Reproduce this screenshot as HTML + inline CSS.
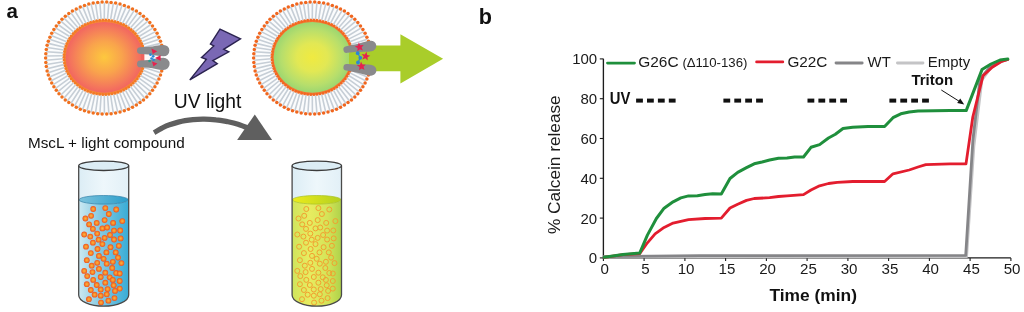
<!DOCTYPE html>
<html lang="en"><head><meta charset="utf-8"><title>Figure</title>
<style>
html,body{margin:0;padding:0;background:#fff;}
body{width:1024px;height:312px;overflow:hidden;font-family:"Liberation Sans", Arial, Helvetica, sans-serif;}
svg text{font-family:"Liberation Sans", Arial, Helvetica, sans-serif;}
</style></head><body>
<svg width="1024" height="312" viewBox="0 0 1024 312" style="display:block">

<defs>
<radialGradient id="coreO" cx="50%" cy="50%" r="50%">
<stop offset="0" stop-color="#fdc83e"/><stop offset="0.45" stop-color="#f9a44c"/><stop offset="0.85" stop-color="#f4775c"/><stop offset="1" stop-color="#f26660"/>
</radialGradient>
<radialGradient id="coreG" cx="50%" cy="50%" r="50%">
<stop offset="0" stop-color="#f0ea40"/><stop offset="0.4" stop-color="#e2e854"/><stop offset="0.8" stop-color="#b6de6c"/><stop offset="1" stop-color="#9cd670"/>
</radialGradient>
<radialGradient id="dotO" cx="50%" cy="50%" r="50%">
<stop offset="0" stop-color="#fcb43c"/><stop offset="0.45" stop-color="#f7922c"/><stop offset="1" stop-color="#ef4f1e"/>
</radialGradient>
<linearGradient id="liqB" x1="0" x2="1" y1="0" y2="0">
<stop offset="0" stop-color="#cde9f2"/><stop offset="0.42" stop-color="#86cae2"/><stop offset="1" stop-color="#38acd6"/>
</linearGradient>
<linearGradient id="surfB" x1="0" x2="1" y1="0" y2="0">
<stop offset="0" stop-color="#7cc2dc"/><stop offset="1" stop-color="#2a9ecb"/>
</linearGradient>
<linearGradient id="liqY" x1="0" x2="1" y1="0" y2="0">
<stop offset="0" stop-color="#cfe45c"/><stop offset="0.35" stop-color="#e8ec60"/><stop offset="0.72" stop-color="#d4e458"/><stop offset="1" stop-color="#aed24a"/>
</linearGradient>
<linearGradient id="surfY" x1="0" x2="1" y1="0" y2="0">
<stop offset="0" stop-color="#ecec1c"/><stop offset="1" stop-color="#b4d020"/>
</linearGradient>
<linearGradient id="glass" x1="0" x2="1" y1="0" y2="0">
<stop offset="0" stop-color="#dcedf5"/><stop offset="0.5" stop-color="#eef7fb"/><stop offset="1" stop-color="#e2f0f7"/>
</linearGradient>
</defs>

<ellipse cx="104.4" cy="58.1" rx="57.8" ry="55.0" fill="#fbfcfd"/>
<path d="M145.3 61.7L162.3 64.5M144.8 64.6L161.6 68.7M144.1 67.4L160.6 72.8M143.2 70.2L159.3 76.9M142.0 72.9L157.6 80.8M140.6 75.5L155.6 84.6M139.0 78.1L153.3 88.3M137.1 80.5L150.8 91.7M135.1 82.7L147.9 95.0M132.9 84.8L144.8 98.1M130.6 86.8L141.5 100.9M128.1 88.5L137.9 103.5M125.4 90.1L134.2 105.8M122.6 91.5L130.3 107.8M119.7 92.7L126.2 109.6M116.8 93.7L122.0 111.0M113.7 94.5L117.7 112.1M110.6 95.1L113.3 112.9M107.5 95.4L108.9 113.4M104.3 95.5L104.4 113.6M101.1 95.4L99.9 113.4M98.0 95.1L95.5 112.9M94.9 94.5L91.1 112.1M91.8 93.7L86.8 111.0M88.9 92.7L82.6 109.6M86.0 91.5L78.5 107.8M83.2 90.1L74.6 105.8M80.5 88.5L70.9 103.5M78.0 86.8L67.3 100.9M75.7 84.8L64.0 98.1M73.5 82.7L60.9 95.0M71.5 80.5L58.0 91.7M69.6 78.1L55.5 88.3M68.0 75.5L53.2 84.6M66.6 72.9L51.2 80.8M65.4 70.2L49.5 76.9M64.5 67.4L48.2 72.8M63.8 64.6L47.2 68.7M63.3 61.7L46.5 64.5M63.0 58.8L46.1 60.2M63.0 55.8L46.1 56.0M63.3 52.9L46.5 51.7M63.8 50.0L47.2 47.5M64.5 47.2L48.2 43.4M65.4 44.4L49.5 39.3M66.6 41.7L51.2 35.4M68.0 39.1L53.2 31.6M69.6 36.5L55.5 27.9M71.5 34.1L58.0 24.5M73.5 31.9L60.9 21.2M75.7 29.8L64.0 18.1M78.0 27.8L67.3 15.3M80.5 26.1L70.9 12.7M83.2 24.5L74.6 10.4M86.0 23.1L78.5 8.4M88.9 21.9L82.6 6.6M91.8 20.9L86.8 5.2M94.9 20.1L91.1 4.1M98.0 19.5L95.5 3.3M101.1 19.2L99.9 2.8M104.3 19.1L104.4 2.6M107.5 19.2L108.9 2.8M110.6 19.5L113.3 3.3M113.7 20.1L117.7 4.1M116.8 20.9L122.0 5.2M119.7 21.9L126.2 6.6M122.6 23.1L130.3 8.4M125.4 24.5L134.2 10.4M128.1 26.1L137.9 12.7M130.6 27.8L141.5 15.3M132.9 29.8L144.8 18.1M135.1 31.9L147.9 21.2M137.1 34.1L150.8 24.5M139.0 36.5L153.3 27.9M140.6 39.1L155.6 31.6M142.0 41.7L157.6 35.4M143.2 44.4L159.3 39.3M144.1 47.2L160.6 43.4M144.8 50.0L161.6 47.5M145.3 52.9L162.3 51.7" stroke="#c6ced6" stroke-width="1.6" fill="none"/>
<ellipse cx="104.30000000000001" cy="57.300000000000004" rx="40.5" ry="37.400000000000006" fill="#f68a38"/>
<circle cx="144.5" cy="60.1" r="1.5" fill="#f37a26"/>
<circle cx="144.1" cy="63.0" r="1.5" fill="#f37a26"/>
<circle cx="143.5" cy="65.8" r="1.5" fill="#f37a26"/>
<circle cx="142.7" cy="68.5" r="1.5" fill="#f37a26"/>
<circle cx="141.7" cy="71.2" r="1.5" fill="#f37a26"/>
<circle cx="140.4" cy="73.8" r="1.5" fill="#f37a26"/>
<circle cx="138.9" cy="76.3" r="1.5" fill="#f37a26"/>
<circle cx="137.3" cy="78.7" r="1.5" fill="#f37a26"/>
<circle cx="135.4" cy="81.0" r="1.5" fill="#f37a26"/>
<circle cx="133.3" cy="83.1" r="1.5" fill="#f37a26"/>
<circle cx="131.1" cy="85.1" r="1.5" fill="#f37a26"/>
<circle cx="128.7" cy="86.9" r="1.5" fill="#f37a26"/>
<circle cx="126.2" cy="88.5" r="1.5" fill="#f37a26"/>
<circle cx="123.6" cy="90.0" r="1.5" fill="#f37a26"/>
<circle cx="120.8" cy="91.2" r="1.5" fill="#f37a26"/>
<circle cx="117.9" cy="92.3" r="1.5" fill="#f37a26"/>
<circle cx="115.0" cy="93.2" r="1.5" fill="#f37a26"/>
<circle cx="112.0" cy="93.8" r="1.5" fill="#f37a26"/>
<circle cx="108.9" cy="94.3" r="1.5" fill="#f37a26"/>
<circle cx="105.8" cy="94.5" r="1.5" fill="#f37a26"/>
<circle cx="102.8" cy="94.5" r="1.5" fill="#f37a26"/>
<circle cx="99.7" cy="94.3" r="1.5" fill="#f37a26"/>
<circle cx="96.6" cy="93.8" r="1.5" fill="#f37a26"/>
<circle cx="93.6" cy="93.2" r="1.5" fill="#f37a26"/>
<circle cx="90.7" cy="92.3" r="1.5" fill="#f37a26"/>
<circle cx="87.8" cy="91.2" r="1.5" fill="#f37a26"/>
<circle cx="85.0" cy="90.0" r="1.5" fill="#f37a26"/>
<circle cx="82.4" cy="88.5" r="1.5" fill="#f37a26"/>
<circle cx="79.9" cy="86.9" r="1.5" fill="#f37a26"/>
<circle cx="77.5" cy="85.1" r="1.5" fill="#f37a26"/>
<circle cx="75.3" cy="83.1" r="1.5" fill="#f37a26"/>
<circle cx="73.2" cy="81.0" r="1.5" fill="#f37a26"/>
<circle cx="71.3" cy="78.7" r="1.5" fill="#f37a26"/>
<circle cx="69.7" cy="76.3" r="1.5" fill="#f37a26"/>
<circle cx="68.2" cy="73.8" r="1.5" fill="#f37a26"/>
<circle cx="66.9" cy="71.2" r="1.5" fill="#f37a26"/>
<circle cx="65.9" cy="68.5" r="1.5" fill="#f37a26"/>
<circle cx="65.1" cy="65.8" r="1.5" fill="#f37a26"/>
<circle cx="64.5" cy="63.0" r="1.5" fill="#f37a26"/>
<circle cx="64.1" cy="60.1" r="1.5" fill="#f37a26"/>
<circle cx="64.0" cy="57.3" r="1.5" fill="#f37a26"/>
<circle cx="64.1" cy="54.5" r="1.5" fill="#f37a26"/>
<circle cx="64.5" cy="51.6" r="1.5" fill="#f37a26"/>
<circle cx="65.1" cy="48.8" r="1.5" fill="#f37a26"/>
<circle cx="65.9" cy="46.1" r="1.5" fill="#f37a26"/>
<circle cx="66.9" cy="43.4" r="1.5" fill="#f37a26"/>
<circle cx="68.2" cy="40.8" r="1.5" fill="#f37a26"/>
<circle cx="69.7" cy="38.3" r="1.5" fill="#f37a26"/>
<circle cx="71.3" cy="35.9" r="1.5" fill="#f37a26"/>
<circle cx="73.2" cy="33.6" r="1.5" fill="#f37a26"/>
<circle cx="75.3" cy="31.5" r="1.5" fill="#f37a26"/>
<circle cx="77.5" cy="29.5" r="1.5" fill="#f37a26"/>
<circle cx="79.9" cy="27.7" r="1.5" fill="#f37a26"/>
<circle cx="82.4" cy="26.1" r="1.5" fill="#f37a26"/>
<circle cx="85.0" cy="24.6" r="1.5" fill="#f37a26"/>
<circle cx="87.8" cy="23.4" r="1.5" fill="#f37a26"/>
<circle cx="90.7" cy="22.3" r="1.5" fill="#f37a26"/>
<circle cx="93.6" cy="21.4" r="1.5" fill="#f37a26"/>
<circle cx="96.6" cy="20.8" r="1.5" fill="#f37a26"/>
<circle cx="99.7" cy="20.3" r="1.5" fill="#f37a26"/>
<circle cx="102.8" cy="20.1" r="1.5" fill="#f37a26"/>
<circle cx="105.8" cy="20.1" r="1.5" fill="#f37a26"/>
<circle cx="108.9" cy="20.3" r="1.5" fill="#f37a26"/>
<circle cx="112.0" cy="20.8" r="1.5" fill="#f37a26"/>
<circle cx="115.0" cy="21.4" r="1.5" fill="#f37a26"/>
<circle cx="117.9" cy="22.3" r="1.5" fill="#f37a26"/>
<circle cx="120.8" cy="23.4" r="1.5" fill="#f37a26"/>
<circle cx="123.6" cy="24.6" r="1.5" fill="#f37a26"/>
<circle cx="126.2" cy="26.1" r="1.5" fill="#f37a26"/>
<circle cx="128.7" cy="27.7" r="1.5" fill="#f37a26"/>
<circle cx="131.1" cy="29.5" r="1.5" fill="#f37a26"/>
<circle cx="133.3" cy="31.5" r="1.5" fill="#f37a26"/>
<circle cx="135.4" cy="33.6" r="1.5" fill="#f37a26"/>
<circle cx="137.3" cy="35.9" r="1.5" fill="#f37a26"/>
<circle cx="138.9" cy="38.3" r="1.5" fill="#f37a26"/>
<circle cx="140.4" cy="40.8" r="1.5" fill="#f37a26"/>
<circle cx="141.7" cy="43.4" r="1.5" fill="#f37a26"/>
<circle cx="142.7" cy="46.1" r="1.5" fill="#f37a26"/>
<circle cx="143.5" cy="48.8" r="1.5" fill="#f37a26"/>
<circle cx="144.1" cy="51.6" r="1.5" fill="#f37a26"/>
<circle cx="144.5" cy="54.5" r="1.5" fill="#f37a26"/>
<ellipse cx="104.30000000000001" cy="57.300000000000004" rx="38.7" ry="35.4" fill="url(#coreO)"/>
<circle cx="163.0" cy="62.4" r="1.75" fill="#f0701f"/>
<circle cx="162.5" cy="66.6" r="1.75" fill="#f0701f"/>
<circle cx="161.7" cy="70.9" r="1.75" fill="#f0701f"/>
<circle cx="160.5" cy="75.0" r="1.75" fill="#f0701f"/>
<circle cx="158.9" cy="79.0" r="1.75" fill="#f0701f"/>
<circle cx="157.1" cy="82.9" r="1.75" fill="#f0701f"/>
<circle cx="154.9" cy="86.7" r="1.75" fill="#f0701f"/>
<circle cx="152.5" cy="90.3" r="1.75" fill="#f0701f"/>
<circle cx="149.8" cy="93.7" r="1.75" fill="#f0701f"/>
<circle cx="146.8" cy="96.9" r="1.75" fill="#f0701f"/>
<circle cx="143.5" cy="99.9" r="1.75" fill="#f0701f"/>
<circle cx="140.0" cy="102.6" r="1.75" fill="#f0701f"/>
<circle cx="136.4" cy="105.1" r="1.75" fill="#f0701f"/>
<circle cx="132.5" cy="107.3" r="1.75" fill="#f0701f"/>
<circle cx="128.5" cy="109.2" r="1.75" fill="#f0701f"/>
<circle cx="124.3" cy="110.8" r="1.75" fill="#f0701f"/>
<circle cx="120.0" cy="112.1" r="1.75" fill="#f0701f"/>
<circle cx="115.6" cy="113.1" r="1.75" fill="#f0701f"/>
<circle cx="111.1" cy="113.7" r="1.75" fill="#f0701f"/>
<circle cx="106.7" cy="114.1" r="1.75" fill="#f0701f"/>
<circle cx="102.1" cy="114.1" r="1.75" fill="#f0701f"/>
<circle cx="97.7" cy="113.7" r="1.75" fill="#f0701f"/>
<circle cx="93.2" cy="113.1" r="1.75" fill="#f0701f"/>
<circle cx="88.8" cy="112.1" r="1.75" fill="#f0701f"/>
<circle cx="84.5" cy="110.8" r="1.75" fill="#f0701f"/>
<circle cx="80.3" cy="109.2" r="1.75" fill="#f0701f"/>
<circle cx="76.3" cy="107.3" r="1.75" fill="#f0701f"/>
<circle cx="72.4" cy="105.1" r="1.75" fill="#f0701f"/>
<circle cx="68.8" cy="102.6" r="1.75" fill="#f0701f"/>
<circle cx="65.3" cy="99.9" r="1.75" fill="#f0701f"/>
<circle cx="62.0" cy="96.9" r="1.75" fill="#f0701f"/>
<circle cx="59.0" cy="93.7" r="1.75" fill="#f0701f"/>
<circle cx="56.3" cy="90.3" r="1.75" fill="#f0701f"/>
<circle cx="53.9" cy="86.7" r="1.75" fill="#f0701f"/>
<circle cx="51.7" cy="82.9" r="1.75" fill="#f0701f"/>
<circle cx="49.9" cy="79.0" r="1.75" fill="#f0701f"/>
<circle cx="48.3" cy="75.0" r="1.75" fill="#f0701f"/>
<circle cx="47.1" cy="70.9" r="1.75" fill="#f0701f"/>
<circle cx="46.3" cy="66.6" r="1.75" fill="#f0701f"/>
<circle cx="45.8" cy="62.4" r="1.75" fill="#f0701f"/>
<circle cx="45.6" cy="58.1" r="1.75" fill="#f0701f"/>
<circle cx="45.8" cy="53.8" r="1.75" fill="#f0701f"/>
<circle cx="46.3" cy="49.6" r="1.75" fill="#f0701f"/>
<circle cx="47.1" cy="45.3" r="1.75" fill="#f0701f"/>
<circle cx="48.3" cy="41.2" r="1.75" fill="#f0701f"/>
<circle cx="49.9" cy="37.2" r="1.75" fill="#f0701f"/>
<circle cx="51.7" cy="33.3" r="1.75" fill="#f0701f"/>
<circle cx="53.9" cy="29.5" r="1.75" fill="#f0701f"/>
<circle cx="56.3" cy="25.9" r="1.75" fill="#f0701f"/>
<circle cx="59.0" cy="22.5" r="1.75" fill="#f0701f"/>
<circle cx="62.0" cy="19.3" r="1.75" fill="#f0701f"/>
<circle cx="65.3" cy="16.3" r="1.75" fill="#f0701f"/>
<circle cx="68.8" cy="13.6" r="1.75" fill="#f0701f"/>
<circle cx="72.4" cy="11.1" r="1.75" fill="#f0701f"/>
<circle cx="76.3" cy="8.9" r="1.75" fill="#f0701f"/>
<circle cx="80.3" cy="7.0" r="1.75" fill="#f0701f"/>
<circle cx="84.5" cy="5.4" r="1.75" fill="#f0701f"/>
<circle cx="88.8" cy="4.1" r="1.75" fill="#f0701f"/>
<circle cx="93.2" cy="3.1" r="1.75" fill="#f0701f"/>
<circle cx="97.7" cy="2.5" r="1.75" fill="#f0701f"/>
<circle cx="102.1" cy="2.1" r="1.75" fill="#f0701f"/>
<circle cx="106.7" cy="2.1" r="1.75" fill="#f0701f"/>
<circle cx="111.1" cy="2.5" r="1.75" fill="#f0701f"/>
<circle cx="115.6" cy="3.1" r="1.75" fill="#f0701f"/>
<circle cx="120.0" cy="4.1" r="1.75" fill="#f0701f"/>
<circle cx="124.3" cy="5.4" r="1.75" fill="#f0701f"/>
<circle cx="128.5" cy="7.0" r="1.75" fill="#f0701f"/>
<circle cx="132.5" cy="8.9" r="1.75" fill="#f0701f"/>
<circle cx="136.4" cy="11.1" r="1.75" fill="#f0701f"/>
<circle cx="140.0" cy="13.6" r="1.75" fill="#f0701f"/>
<circle cx="143.5" cy="16.3" r="1.75" fill="#f0701f"/>
<circle cx="146.8" cy="19.3" r="1.75" fill="#f0701f"/>
<circle cx="149.8" cy="22.5" r="1.75" fill="#f0701f"/>
<circle cx="152.5" cy="25.9" r="1.75" fill="#f0701f"/>
<circle cx="154.9" cy="29.5" r="1.75" fill="#f0701f"/>
<circle cx="157.1" cy="33.3" r="1.75" fill="#f0701f"/>
<circle cx="158.9" cy="37.2" r="1.75" fill="#f0701f"/>
<circle cx="160.5" cy="41.2" r="1.75" fill="#f0701f"/>
<circle cx="161.7" cy="45.3" r="1.75" fill="#f0701f"/>
<circle cx="162.5" cy="49.6" r="1.75" fill="#f0701f"/>
<circle cx="163.0" cy="53.8" r="1.75" fill="#f0701f"/>
<ellipse cx="312.4" cy="58.1" rx="57.8" ry="55.0" fill="#fbfcfd"/>
<path d="M353.3 61.7L370.3 64.5M352.8 64.6L369.6 68.7M352.1 67.4L368.6 72.8M351.2 70.2L367.3 76.9M350.0 72.9L365.6 80.8M348.6 75.5L363.6 84.6M347.0 78.1L361.3 88.3M345.1 80.5L358.8 91.7M343.1 82.7L355.9 95.0M340.9 84.8L352.8 98.1M338.6 86.8L349.5 100.9M336.1 88.5L345.9 103.5M333.4 90.1L342.2 105.8M330.6 91.5L338.3 107.8M327.7 92.7L334.2 109.6M324.8 93.7L330.0 111.0M321.7 94.5L325.7 112.1M318.6 95.1L321.3 112.9M315.5 95.4L316.9 113.4M312.3 95.5L312.4 113.6M309.1 95.4L307.9 113.4M306.0 95.1L303.5 112.9M302.9 94.5L299.1 112.1M299.8 93.7L294.8 111.0M296.9 92.7L290.6 109.6M294.0 91.5L286.5 107.8M291.2 90.1L282.6 105.8M288.5 88.5L278.9 103.5M286.0 86.8L275.3 100.9M283.7 84.8L272.0 98.1M281.5 82.7L268.9 95.0M279.5 80.5L266.0 91.7M277.6 78.1L263.5 88.3M276.0 75.5L261.2 84.6M274.6 72.9L259.2 80.8M273.4 70.2L257.5 76.9M272.5 67.4L256.2 72.8M271.8 64.6L255.2 68.7M271.3 61.7L254.5 64.5M271.0 58.8L254.1 60.2M271.0 55.8L254.1 56.0M271.3 52.9L254.5 51.7M271.8 50.0L255.2 47.5M272.5 47.2L256.2 43.4M273.4 44.4L257.5 39.3M274.6 41.7L259.2 35.4M276.0 39.1L261.2 31.6M277.6 36.5L263.5 27.9M279.5 34.1L266.0 24.5M281.5 31.9L268.9 21.2M283.7 29.8L272.0 18.1M286.0 27.8L275.3 15.3M288.5 26.1L278.9 12.7M291.2 24.5L282.6 10.4M294.0 23.1L286.5 8.4M296.9 21.9L290.6 6.6M299.8 20.9L294.8 5.2M302.9 20.1L299.1 4.1M306.0 19.5L303.5 3.3M309.1 19.2L307.9 2.8M312.3 19.1L312.4 2.6M315.5 19.2L316.9 2.8M318.6 19.5L321.3 3.3M321.7 20.1L325.7 4.1M324.8 20.9L330.0 5.2M327.7 21.9L334.2 6.6M330.6 23.1L338.3 8.4M333.4 24.5L342.2 10.4M336.1 26.1L345.9 12.7M338.6 27.8L349.5 15.3M340.9 29.8L352.8 18.1M343.1 31.9L355.9 21.2M345.1 34.1L358.8 24.5M347.0 36.5L361.3 27.9M348.6 39.1L363.6 31.6M350.0 41.7L365.6 35.4M351.2 44.4L367.3 39.3M352.1 47.2L368.6 43.4M352.8 50.0L369.6 47.5M353.3 52.9L370.3 51.7" stroke="#c6ced6" stroke-width="1.6" fill="none"/>
<ellipse cx="312.29999999999995" cy="57.300000000000004" rx="40.5" ry="37.400000000000006" fill="#f57832"/>
<circle cx="352.5" cy="60.1" r="1.5" fill="#f26822"/>
<circle cx="352.1" cy="63.0" r="1.5" fill="#f26822"/>
<circle cx="351.5" cy="65.8" r="1.5" fill="#f26822"/>
<circle cx="350.7" cy="68.5" r="1.5" fill="#f26822"/>
<circle cx="349.7" cy="71.2" r="1.5" fill="#f26822"/>
<circle cx="348.4" cy="73.8" r="1.5" fill="#f26822"/>
<circle cx="346.9" cy="76.3" r="1.5" fill="#f26822"/>
<circle cx="345.3" cy="78.7" r="1.5" fill="#f26822"/>
<circle cx="343.4" cy="81.0" r="1.5" fill="#f26822"/>
<circle cx="341.3" cy="83.1" r="1.5" fill="#f26822"/>
<circle cx="339.1" cy="85.1" r="1.5" fill="#f26822"/>
<circle cx="336.7" cy="86.9" r="1.5" fill="#f26822"/>
<circle cx="334.2" cy="88.5" r="1.5" fill="#f26822"/>
<circle cx="331.6" cy="90.0" r="1.5" fill="#f26822"/>
<circle cx="328.8" cy="91.2" r="1.5" fill="#f26822"/>
<circle cx="325.9" cy="92.3" r="1.5" fill="#f26822"/>
<circle cx="323.0" cy="93.2" r="1.5" fill="#f26822"/>
<circle cx="320.0" cy="93.8" r="1.5" fill="#f26822"/>
<circle cx="316.9" cy="94.3" r="1.5" fill="#f26822"/>
<circle cx="313.8" cy="94.5" r="1.5" fill="#f26822"/>
<circle cx="310.8" cy="94.5" r="1.5" fill="#f26822"/>
<circle cx="307.7" cy="94.3" r="1.5" fill="#f26822"/>
<circle cx="304.6" cy="93.8" r="1.5" fill="#f26822"/>
<circle cx="301.6" cy="93.2" r="1.5" fill="#f26822"/>
<circle cx="298.7" cy="92.3" r="1.5" fill="#f26822"/>
<circle cx="295.8" cy="91.2" r="1.5" fill="#f26822"/>
<circle cx="293.0" cy="90.0" r="1.5" fill="#f26822"/>
<circle cx="290.4" cy="88.5" r="1.5" fill="#f26822"/>
<circle cx="287.9" cy="86.9" r="1.5" fill="#f26822"/>
<circle cx="285.5" cy="85.1" r="1.5" fill="#f26822"/>
<circle cx="283.3" cy="83.1" r="1.5" fill="#f26822"/>
<circle cx="281.2" cy="81.0" r="1.5" fill="#f26822"/>
<circle cx="279.3" cy="78.7" r="1.5" fill="#f26822"/>
<circle cx="277.7" cy="76.3" r="1.5" fill="#f26822"/>
<circle cx="276.2" cy="73.8" r="1.5" fill="#f26822"/>
<circle cx="274.9" cy="71.2" r="1.5" fill="#f26822"/>
<circle cx="273.9" cy="68.5" r="1.5" fill="#f26822"/>
<circle cx="273.1" cy="65.8" r="1.5" fill="#f26822"/>
<circle cx="272.5" cy="63.0" r="1.5" fill="#f26822"/>
<circle cx="272.1" cy="60.1" r="1.5" fill="#f26822"/>
<circle cx="272.0" cy="57.3" r="1.5" fill="#f26822"/>
<circle cx="272.1" cy="54.5" r="1.5" fill="#f26822"/>
<circle cx="272.5" cy="51.6" r="1.5" fill="#f26822"/>
<circle cx="273.1" cy="48.8" r="1.5" fill="#f26822"/>
<circle cx="273.9" cy="46.1" r="1.5" fill="#f26822"/>
<circle cx="274.9" cy="43.4" r="1.5" fill="#f26822"/>
<circle cx="276.2" cy="40.8" r="1.5" fill="#f26822"/>
<circle cx="277.7" cy="38.3" r="1.5" fill="#f26822"/>
<circle cx="279.3" cy="35.9" r="1.5" fill="#f26822"/>
<circle cx="281.2" cy="33.6" r="1.5" fill="#f26822"/>
<circle cx="283.3" cy="31.5" r="1.5" fill="#f26822"/>
<circle cx="285.5" cy="29.5" r="1.5" fill="#f26822"/>
<circle cx="287.9" cy="27.7" r="1.5" fill="#f26822"/>
<circle cx="290.4" cy="26.1" r="1.5" fill="#f26822"/>
<circle cx="293.0" cy="24.6" r="1.5" fill="#f26822"/>
<circle cx="295.8" cy="23.4" r="1.5" fill="#f26822"/>
<circle cx="298.7" cy="22.3" r="1.5" fill="#f26822"/>
<circle cx="301.6" cy="21.4" r="1.5" fill="#f26822"/>
<circle cx="304.6" cy="20.8" r="1.5" fill="#f26822"/>
<circle cx="307.7" cy="20.3" r="1.5" fill="#f26822"/>
<circle cx="310.8" cy="20.1" r="1.5" fill="#f26822"/>
<circle cx="313.8" cy="20.1" r="1.5" fill="#f26822"/>
<circle cx="316.9" cy="20.3" r="1.5" fill="#f26822"/>
<circle cx="320.0" cy="20.8" r="1.5" fill="#f26822"/>
<circle cx="323.0" cy="21.4" r="1.5" fill="#f26822"/>
<circle cx="325.9" cy="22.3" r="1.5" fill="#f26822"/>
<circle cx="328.8" cy="23.4" r="1.5" fill="#f26822"/>
<circle cx="331.6" cy="24.6" r="1.5" fill="#f26822"/>
<circle cx="334.2" cy="26.1" r="1.5" fill="#f26822"/>
<circle cx="336.7" cy="27.7" r="1.5" fill="#f26822"/>
<circle cx="339.1" cy="29.5" r="1.5" fill="#f26822"/>
<circle cx="341.3" cy="31.5" r="1.5" fill="#f26822"/>
<circle cx="343.4" cy="33.6" r="1.5" fill="#f26822"/>
<circle cx="345.3" cy="35.9" r="1.5" fill="#f26822"/>
<circle cx="346.9" cy="38.3" r="1.5" fill="#f26822"/>
<circle cx="348.4" cy="40.8" r="1.5" fill="#f26822"/>
<circle cx="349.7" cy="43.4" r="1.5" fill="#f26822"/>
<circle cx="350.7" cy="46.1" r="1.5" fill="#f26822"/>
<circle cx="351.5" cy="48.8" r="1.5" fill="#f26822"/>
<circle cx="352.1" cy="51.6" r="1.5" fill="#f26822"/>
<circle cx="352.5" cy="54.5" r="1.5" fill="#f26822"/>
<ellipse cx="312.29999999999995" cy="57.300000000000004" rx="38.7" ry="35.4" fill="url(#coreG)"/>
<circle cx="371.0" cy="62.4" r="1.75" fill="#f0661f"/>
<circle cx="370.5" cy="66.6" r="1.75" fill="#f0661f"/>
<circle cx="369.7" cy="70.9" r="1.75" fill="#f0661f"/>
<circle cx="368.5" cy="75.0" r="1.75" fill="#f0661f"/>
<circle cx="366.9" cy="79.0" r="1.75" fill="#f0661f"/>
<circle cx="365.1" cy="82.9" r="1.75" fill="#f0661f"/>
<circle cx="362.9" cy="86.7" r="1.75" fill="#f0661f"/>
<circle cx="360.5" cy="90.3" r="1.75" fill="#f0661f"/>
<circle cx="357.8" cy="93.7" r="1.75" fill="#f0661f"/>
<circle cx="354.8" cy="96.9" r="1.75" fill="#f0661f"/>
<circle cx="351.5" cy="99.9" r="1.75" fill="#f0661f"/>
<circle cx="348.0" cy="102.6" r="1.75" fill="#f0661f"/>
<circle cx="344.4" cy="105.1" r="1.75" fill="#f0661f"/>
<circle cx="340.5" cy="107.3" r="1.75" fill="#f0661f"/>
<circle cx="336.5" cy="109.2" r="1.75" fill="#f0661f"/>
<circle cx="332.3" cy="110.8" r="1.75" fill="#f0661f"/>
<circle cx="328.0" cy="112.1" r="1.75" fill="#f0661f"/>
<circle cx="323.6" cy="113.1" r="1.75" fill="#f0661f"/>
<circle cx="319.1" cy="113.7" r="1.75" fill="#f0661f"/>
<circle cx="314.7" cy="114.1" r="1.75" fill="#f0661f"/>
<circle cx="310.1" cy="114.1" r="1.75" fill="#f0661f"/>
<circle cx="305.7" cy="113.7" r="1.75" fill="#f0661f"/>
<circle cx="301.2" cy="113.1" r="1.75" fill="#f0661f"/>
<circle cx="296.8" cy="112.1" r="1.75" fill="#f0661f"/>
<circle cx="292.5" cy="110.8" r="1.75" fill="#f0661f"/>
<circle cx="288.3" cy="109.2" r="1.75" fill="#f0661f"/>
<circle cx="284.3" cy="107.3" r="1.75" fill="#f0661f"/>
<circle cx="280.4" cy="105.1" r="1.75" fill="#f0661f"/>
<circle cx="276.8" cy="102.6" r="1.75" fill="#f0661f"/>
<circle cx="273.3" cy="99.9" r="1.75" fill="#f0661f"/>
<circle cx="270.0" cy="96.9" r="1.75" fill="#f0661f"/>
<circle cx="267.0" cy="93.7" r="1.75" fill="#f0661f"/>
<circle cx="264.3" cy="90.3" r="1.75" fill="#f0661f"/>
<circle cx="261.9" cy="86.7" r="1.75" fill="#f0661f"/>
<circle cx="259.7" cy="82.9" r="1.75" fill="#f0661f"/>
<circle cx="257.9" cy="79.0" r="1.75" fill="#f0661f"/>
<circle cx="256.3" cy="75.0" r="1.75" fill="#f0661f"/>
<circle cx="255.1" cy="70.9" r="1.75" fill="#f0661f"/>
<circle cx="254.3" cy="66.6" r="1.75" fill="#f0661f"/>
<circle cx="253.8" cy="62.4" r="1.75" fill="#f0661f"/>
<circle cx="253.6" cy="58.1" r="1.75" fill="#f0661f"/>
<circle cx="253.8" cy="53.8" r="1.75" fill="#f0661f"/>
<circle cx="254.3" cy="49.6" r="1.75" fill="#f0661f"/>
<circle cx="255.1" cy="45.3" r="1.75" fill="#f0661f"/>
<circle cx="256.3" cy="41.2" r="1.75" fill="#f0661f"/>
<circle cx="257.9" cy="37.2" r="1.75" fill="#f0661f"/>
<circle cx="259.7" cy="33.3" r="1.75" fill="#f0661f"/>
<circle cx="261.9" cy="29.5" r="1.75" fill="#f0661f"/>
<circle cx="264.3" cy="25.9" r="1.75" fill="#f0661f"/>
<circle cx="267.0" cy="22.5" r="1.75" fill="#f0661f"/>
<circle cx="270.0" cy="19.3" r="1.75" fill="#f0661f"/>
<circle cx="273.3" cy="16.3" r="1.75" fill="#f0661f"/>
<circle cx="276.8" cy="13.6" r="1.75" fill="#f0661f"/>
<circle cx="280.4" cy="11.1" r="1.75" fill="#f0661f"/>
<circle cx="284.3" cy="8.9" r="1.75" fill="#f0661f"/>
<circle cx="288.3" cy="7.0" r="1.75" fill="#f0661f"/>
<circle cx="292.5" cy="5.4" r="1.75" fill="#f0661f"/>
<circle cx="296.8" cy="4.1" r="1.75" fill="#f0661f"/>
<circle cx="301.2" cy="3.1" r="1.75" fill="#f0661f"/>
<circle cx="305.7" cy="2.5" r="1.75" fill="#f0661f"/>
<circle cx="310.1" cy="2.1" r="1.75" fill="#f0661f"/>
<circle cx="314.7" cy="2.1" r="1.75" fill="#f0661f"/>
<circle cx="319.1" cy="2.5" r="1.75" fill="#f0661f"/>
<circle cx="323.6" cy="3.1" r="1.75" fill="#f0661f"/>
<circle cx="328.0" cy="4.1" r="1.75" fill="#f0661f"/>
<circle cx="332.3" cy="5.4" r="1.75" fill="#f0661f"/>
<circle cx="336.5" cy="7.0" r="1.75" fill="#f0661f"/>
<circle cx="340.5" cy="8.9" r="1.75" fill="#f0661f"/>
<circle cx="344.4" cy="11.1" r="1.75" fill="#f0661f"/>
<circle cx="348.0" cy="13.6" r="1.75" fill="#f0661f"/>
<circle cx="351.5" cy="16.3" r="1.75" fill="#f0661f"/>
<circle cx="354.8" cy="19.3" r="1.75" fill="#f0661f"/>
<circle cx="357.8" cy="22.5" r="1.75" fill="#f0661f"/>
<circle cx="360.5" cy="25.9" r="1.75" fill="#f0661f"/>
<circle cx="362.9" cy="29.5" r="1.75" fill="#f0661f"/>
<circle cx="365.1" cy="33.3" r="1.75" fill="#f0661f"/>
<circle cx="366.9" cy="37.2" r="1.75" fill="#f0661f"/>
<circle cx="368.5" cy="41.2" r="1.75" fill="#f0661f"/>
<circle cx="369.7" cy="45.3" r="1.75" fill="#f0661f"/>
<circle cx="370.5" cy="49.6" r="1.75" fill="#f0661f"/>
<circle cx="371.0" cy="53.8" r="1.75" fill="#f0661f"/>
<path d="M141 52.5 L145 52.5 L145 62 L141 62Z" fill="#f0625c"/>
<path d="M144.4 50.5 L150.4 56.8 L144.4 64.2Z" fill="#fff8f6"/>
<path d="M140.4 47.2 L148.7 46.7 C153.8 46.4 157.9 44.9 163.7 44.9 A5.7 5.7 0 0 1 163.7 56.3 C157.9 56.3 153.8 54.8 148.7 54.5 L140.4 54.0 A3.4 3.4 0 0 1 140.4 47.2Z" fill="#8a8a8c"/>
<path d="M140.4 60.5 L148.7 60.0 C154.0 59.7 157.5 57.7 163.4 57.7 A6.2 6.2 0 0 1 163.4 70.1 C157.5 70.1 154.0 68.1 148.7 67.8 L140.4 67.3 A3.4 3.4 0 0 1 140.4 60.5Z" fill="#8a8a8c"/>
<polygon points="151.4,48.5 157.2,51.3 152.8,54.0" fill="#e6214f"/>
<polygon points="160.6,55.2 160.6,60.8 155.0,58.0" fill="#e6214f"/>
<polygon points="152.0,61.4 157.4,63.6 153.4,66.6" fill="#e6214f"/>
<circle cx="150.5" cy="54.7" r="1.35" fill="#2b86d6"/>
<circle cx="153.2" cy="56.3" r="1.35" fill="#2b86d6"/>
<circle cx="151.6" cy="58.5" r="1.35" fill="#2b86d6"/>
<circle cx="153.6" cy="59.8" r="1.35" fill="#2b86d6"/>
<circle cx="149.6" cy="61.0" r="1.35" fill="#2a9c8c"/>
<path d="M349 52.5 L375 46.6 L375 45.4 L400.4 45.4 L400.4 34.3 L443.1 58.8 L400.4 83.5 L400.4 71.2 L375 71.2 L375 69.6 L349 64.5Z" fill="#a9cd2a"/>
<g transform="rotate(-8.5 346.5 49.6)"><path d="M346.7 46.3 L355.4 45.8 C360.7 45.5 365.3 44.3 371.3 44.3 A5.3 5.3 0 0 1 371.3 54.9 C365.3 54.9 360.7 53.7 355.4 53.4 L346.7 52.9 A3.3 3.3 0 0 1 346.7 46.3Z" fill="#8a8a8c"/></g>
<g transform="rotate(7.0 346.5 67.3)"><path d="M346.7 64.0 L355.4 63.5 C360.7 63.2 365.2 61.9 371.2 61.9 A5.4 5.4 0 0 1 371.2 72.7 C365.2 72.7 360.7 71.4 355.4 71.1 L346.7 70.6 A3.3 3.3 0 0 1 346.7 64.0Z" fill="#8a8a8c"/></g>
<polygon points="358.7,42.5 360.4,45.2 363.6,44.9 361.6,47.4 362.9,50.4 359.9,49.2 357.4,51.3 357.6,48.1 354.8,46.4 358.0,45.6" fill="#e6214f"/>
<polygon points="366.5,51.8 367.2,54.9 370.3,55.7 367.5,57.3 367.7,60.4 365.3,58.3 362.4,59.5 363.7,56.6 361.6,54.1 364.8,54.4" fill="#e6214f"/>
<polygon points="361.0,61.6 362.5,64.5 365.7,64.5 363.5,66.8 364.5,69.8 361.6,68.4 359.0,70.3 359.5,67.1 356.8,65.2 360.0,64.7" fill="#e6214f"/>
<path d="M357.7 53.2 L360.3 57.8 L358 62.5" stroke="#2b86d6" stroke-width="1.2" fill="none"/>
<circle cx="357.7" cy="53.2" r="1.9" fill="#2b86d6"/>
<circle cx="360.3" cy="57.8" r="1.9" fill="#2b86d6"/>
<circle cx="358.0" cy="62.5" r="1.9" fill="#2b86d6"/>
<polygon points="220,29.2 240.5,38.9 223.7,49.3 228.8,51.8 212.8,60.6 217.3,63.7 189.8,79.9 206.3,59.4 201.5,57.5 213.8,46 210.4,44" fill="#7a68b4" stroke="#2b2350" stroke-width="1.4" stroke-linejoin="miter"/>
<text x="6.6" y="18.1" font-family='"Liberation Sans", Arial, Helvetica, sans-serif' font-size="20.5" font-weight="bold" fill="#111">a</text>
<text x="173.8" y="107.8" font-family='"Liberation Sans", Arial, Helvetica, sans-serif' font-size="19.3" fill="#111">UV light</text>
<text x="28" y="147.8" font-family='"Liberation Sans", Arial, Helvetica, sans-serif' font-size="15.25" fill="#111">MscL + light compound</text>
<path d="M154.1 132.7 C155.3 132.0 158.9 129.7 161.5 128.4 C164.1 127.1 165.6 126.1 169.5 124.8 C173.4 123.5 179.5 121.5 185.0 120.6 C190.5 119.6 197.5 119.2 202.7 119.1 C207.9 119.0 211.8 119.3 216.0 119.8 C220.2 120.2 224.4 121.1 228.1 121.8 C231.8 122.5 234.6 123.1 238.0 124.2 C241.4 125.3 246.8 127.5 248.5 128.2" stroke="#5f5f5f" stroke-width="5.2" fill="none"/>
<polygon points="254.8,114.4 237.1,140 272.1,140" fill="#5f5f5f"/>
<path d="M78.7 165.8 L78.7 295.0 A25.0 11.2 0 0 0 128.7 295.0 L128.7 165.8Z" fill="url(#glass)"/>
<path d="M78.7 199.8 L78.7 295.0 A25.0 11.2 0 0 0 128.7 295.0 L128.7 199.8 A25.0 4.3 0 0 1 78.7 199.8Z" fill="url(#liqB)"/>
<ellipse cx="103.7" cy="199.8" rx="24.6" ry="4.3" fill="url(#surfB)" stroke="#2f7fa8" stroke-width="0.7"/>
<circle cx="93.2" cy="209.0" r="2.9" fill="url(#dotO)"/>
<circle cx="105.3" cy="208.1" r="2.9" fill="url(#dotO)"/>
<circle cx="116.2" cy="209.5" r="2.9" fill="url(#dotO)"/>
<circle cx="108.8" cy="214.0" r="2.9" fill="url(#dotO)"/>
<circle cx="91.1" cy="215.8" r="2.9" fill="url(#dotO)"/>
<circle cx="85.4" cy="218.5" r="2.9" fill="url(#dotO)"/>
<circle cx="104.6" cy="220.1" r="2.9" fill="url(#dotO)"/>
<circle cx="122.3" cy="221.1" r="2.9" fill="url(#dotO)"/>
<circle cx="96.7" cy="222.9" r="2.9" fill="url(#dotO)"/>
<circle cx="113.1" cy="222.9" r="2.9" fill="url(#dotO)"/>
<circle cx="89.1" cy="224.4" r="2.9" fill="url(#dotO)"/>
<circle cx="92.9" cy="228.9" r="2.9" fill="url(#dotO)"/>
<circle cx="102.4" cy="228.4" r="2.9" fill="url(#dotO)"/>
<circle cx="107.1" cy="227.5" r="2.9" fill="url(#dotO)"/>
<circle cx="114.0" cy="230.6" r="2.9" fill="url(#dotO)"/>
<circle cx="120.2" cy="230.5" r="2.9" fill="url(#dotO)"/>
<circle cx="97.2" cy="233.6" r="2.9" fill="url(#dotO)"/>
<circle cx="84.2" cy="234.5" r="2.9" fill="url(#dotO)"/>
<circle cx="90.3" cy="236.6" r="2.9" fill="url(#dotO)"/>
<circle cx="110.0" cy="235.0" r="2.9" fill="url(#dotO)"/>
<circle cx="104.6" cy="237.9" r="2.9" fill="url(#dotO)"/>
<circle cx="120.6" cy="238.4" r="2.9" fill="url(#dotO)"/>
<circle cx="114.0" cy="239.5" r="2.9" fill="url(#dotO)"/>
<circle cx="98.6" cy="239.7" r="2.9" fill="url(#dotO)"/>
<circle cx="92.9" cy="242.7" r="2.9" fill="url(#dotO)"/>
<circle cx="102.4" cy="244.1" r="2.9" fill="url(#dotO)"/>
<circle cx="86.0" cy="246.7" r="2.9" fill="url(#dotO)"/>
<circle cx="110.5" cy="247.2" r="2.9" fill="url(#dotO)"/>
<circle cx="118.8" cy="245.8" r="2.9" fill="url(#dotO)"/>
<circle cx="97.5" cy="249.0" r="2.9" fill="url(#dotO)"/>
<circle cx="90.8" cy="253.1" r="2.9" fill="url(#dotO)"/>
<circle cx="106.4" cy="252.4" r="2.9" fill="url(#dotO)"/>
<circle cx="115.7" cy="252.4" r="2.9" fill="url(#dotO)"/>
<circle cx="98.9" cy="255.9" r="2.9" fill="url(#dotO)"/>
<circle cx="118.0" cy="257.6" r="2.9" fill="url(#dotO)"/>
<circle cx="103.6" cy="258.8" r="2.9" fill="url(#dotO)"/>
<circle cx="86.8" cy="260.2" r="2.9" fill="url(#dotO)"/>
<circle cx="97.2" cy="262.8" r="2.9" fill="url(#dotO)"/>
<circle cx="106.7" cy="263.7" r="2.9" fill="url(#dotO)"/>
<circle cx="112.8" cy="261.8" r="2.9" fill="url(#dotO)"/>
<circle cx="121.4" cy="263.1" r="2.9" fill="url(#dotO)"/>
<circle cx="91.7" cy="265.7" r="2.9" fill="url(#dotO)"/>
<circle cx="98.9" cy="268.9" r="2.9" fill="url(#dotO)"/>
<circle cx="112.2" cy="268.0" r="2.9" fill="url(#dotO)"/>
<circle cx="84.2" cy="270.9" r="2.9" fill="url(#dotO)"/>
<circle cx="92.5" cy="272.1" r="2.9" fill="url(#dotO)"/>
<circle cx="105.3" cy="272.7" r="2.9" fill="url(#dotO)"/>
<circle cx="116.2" cy="273.0" r="2.9" fill="url(#dotO)"/>
<circle cx="119.7" cy="273.5" r="2.9" fill="url(#dotO)"/>
<circle cx="87.2" cy="276.1" r="2.9" fill="url(#dotO)"/>
<circle cx="100.7" cy="277.0" r="2.9" fill="url(#dotO)"/>
<circle cx="109.7" cy="277.3" r="2.9" fill="url(#dotO)"/>
<circle cx="93.2" cy="279.9" r="2.9" fill="url(#dotO)"/>
<circle cx="112.8" cy="279.9" r="2.9" fill="url(#dotO)"/>
<circle cx="119.7" cy="281.0" r="2.9" fill="url(#dotO)"/>
<circle cx="105.3" cy="282.7" r="2.9" fill="url(#dotO)"/>
<circle cx="86.8" cy="284.2" r="2.9" fill="url(#dotO)"/>
<circle cx="96.7" cy="285.0" r="2.9" fill="url(#dotO)"/>
<circle cx="113.6" cy="285.3" r="2.9" fill="url(#dotO)"/>
<circle cx="100.7" cy="289.5" r="2.9" fill="url(#dotO)"/>
<circle cx="107.6" cy="289.1" r="2.9" fill="url(#dotO)"/>
<circle cx="119.7" cy="288.6" r="2.9" fill="url(#dotO)"/>
<circle cx="90.8" cy="290.0" r="2.9" fill="url(#dotO)"/>
<circle cx="115.0" cy="290.9" r="2.9" fill="url(#dotO)"/>
<circle cx="94.6" cy="294.7" r="2.9" fill="url(#dotO)"/>
<circle cx="100.7" cy="295.7" r="2.9" fill="url(#dotO)"/>
<circle cx="106.7" cy="294.3" r="2.9" fill="url(#dotO)"/>
<circle cx="88.9" cy="299.2" r="2.9" fill="url(#dotO)"/>
<circle cx="114.5" cy="298.1" r="2.9" fill="url(#dotO)"/>
<circle cx="101.0" cy="302.6" r="2.9" fill="url(#dotO)"/>
<circle cx="108.4" cy="300.7" r="2.9" fill="url(#dotO)"/>
<path d="M78.7 165.8 L78.7 295.0 A25.0 11.2 0 0 0 128.7 295.0 L128.7 165.8" fill="none" stroke="#4a4a4a" stroke-width="1.3"/>
<ellipse cx="103.7" cy="165.8" rx="25.0" ry="4.7" fill="#dcedf5" stroke="#3c3c3c" stroke-width="1.3"/>
<path d="M292.1 165.8 L292.1 295.0 A24.7 11.2 0 0 0 341.5 295.0 L341.5 165.8Z" fill="url(#glass)"/>
<path d="M292.1 199.8 L292.1 295.0 A24.7 11.2 0 0 0 341.5 295.0 L341.5 199.8 A24.7 4.3 0 0 1 292.1 199.8Z" fill="url(#liqY)"/>
<ellipse cx="316.8" cy="199.8" rx="24.3" ry="4.3" fill="url(#surfY)" stroke="#a8c020" stroke-width="0.7"/>
<circle cx="306.3" cy="209.0" r="2.5" fill="none" stroke="#f2a030" stroke-width="1"/>
<circle cx="318.4" cy="208.1" r="2.5" fill="none" stroke="#f2a030" stroke-width="1"/>
<circle cx="329.3" cy="209.5" r="2.5" fill="none" stroke="#f2a030" stroke-width="1"/>
<circle cx="321.9" cy="214.0" r="2.5" fill="none" stroke="#f2a030" stroke-width="1"/>
<circle cx="304.2" cy="215.8" r="2.5" fill="none" stroke="#f2a030" stroke-width="1"/>
<circle cx="298.5" cy="218.5" r="2.5" fill="none" stroke="#f2a030" stroke-width="1"/>
<circle cx="317.7" cy="220.1" r="2.5" fill="none" stroke="#f2a030" stroke-width="1"/>
<circle cx="335.4" cy="221.1" r="2.5" fill="none" stroke="#f2a030" stroke-width="1"/>
<circle cx="309.8" cy="222.9" r="2.5" fill="none" stroke="#f2a030" stroke-width="1"/>
<circle cx="326.2" cy="222.9" r="2.5" fill="none" stroke="#f2a030" stroke-width="1"/>
<circle cx="302.2" cy="224.4" r="2.5" fill="none" stroke="#f2a030" stroke-width="1"/>
<circle cx="306.0" cy="228.9" r="2.5" fill="none" stroke="#f2a030" stroke-width="1"/>
<circle cx="315.5" cy="228.4" r="2.5" fill="none" stroke="#f2a030" stroke-width="1"/>
<circle cx="320.2" cy="227.5" r="2.5" fill="none" stroke="#f2a030" stroke-width="1"/>
<circle cx="327.1" cy="230.6" r="2.5" fill="none" stroke="#f2a030" stroke-width="1"/>
<circle cx="333.3" cy="230.5" r="2.5" fill="none" stroke="#f2a030" stroke-width="1"/>
<circle cx="310.3" cy="233.6" r="2.5" fill="none" stroke="#f2a030" stroke-width="1"/>
<circle cx="297.3" cy="234.5" r="2.5" fill="none" stroke="#f2a030" stroke-width="1"/>
<circle cx="303.4" cy="236.6" r="2.5" fill="none" stroke="#f2a030" stroke-width="1"/>
<circle cx="323.1" cy="235.0" r="2.5" fill="none" stroke="#f2a030" stroke-width="1"/>
<circle cx="317.7" cy="237.9" r="2.5" fill="none" stroke="#f2a030" stroke-width="1"/>
<circle cx="333.7" cy="238.4" r="2.5" fill="none" stroke="#f2a030" stroke-width="1"/>
<circle cx="327.1" cy="239.5" r="2.5" fill="none" stroke="#f2a030" stroke-width="1"/>
<circle cx="311.7" cy="239.7" r="2.5" fill="none" stroke="#f2a030" stroke-width="1"/>
<circle cx="306.0" cy="242.7" r="2.5" fill="none" stroke="#f2a030" stroke-width="1"/>
<circle cx="315.5" cy="244.1" r="2.5" fill="none" stroke="#f2a030" stroke-width="1"/>
<circle cx="299.1" cy="246.7" r="2.5" fill="none" stroke="#f2a030" stroke-width="1"/>
<circle cx="323.6" cy="247.2" r="2.5" fill="none" stroke="#f2a030" stroke-width="1"/>
<circle cx="331.9" cy="245.8" r="2.5" fill="none" stroke="#f2a030" stroke-width="1"/>
<circle cx="310.6" cy="249.0" r="2.5" fill="none" stroke="#f2a030" stroke-width="1"/>
<circle cx="303.9" cy="253.1" r="2.5" fill="none" stroke="#f2a030" stroke-width="1"/>
<circle cx="319.5" cy="252.4" r="2.5" fill="none" stroke="#f2a030" stroke-width="1"/>
<circle cx="328.8" cy="252.4" r="2.5" fill="none" stroke="#f2a030" stroke-width="1"/>
<circle cx="312.0" cy="255.9" r="2.5" fill="none" stroke="#f2a030" stroke-width="1"/>
<circle cx="331.1" cy="257.6" r="2.5" fill="none" stroke="#f2a030" stroke-width="1"/>
<circle cx="316.7" cy="258.8" r="2.5" fill="none" stroke="#f2a030" stroke-width="1"/>
<circle cx="299.9" cy="260.2" r="2.5" fill="none" stroke="#f2a030" stroke-width="1"/>
<circle cx="310.3" cy="262.8" r="2.5" fill="none" stroke="#f2a030" stroke-width="1"/>
<circle cx="319.8" cy="263.7" r="2.5" fill="none" stroke="#f2a030" stroke-width="1"/>
<circle cx="325.9" cy="261.8" r="2.5" fill="none" stroke="#f2a030" stroke-width="1"/>
<circle cx="334.5" cy="263.1" r="2.5" fill="none" stroke="#f2a030" stroke-width="1"/>
<circle cx="304.8" cy="265.7" r="2.5" fill="none" stroke="#f2a030" stroke-width="1"/>
<circle cx="312.0" cy="268.9" r="2.5" fill="none" stroke="#f2a030" stroke-width="1"/>
<circle cx="325.3" cy="268.0" r="2.5" fill="none" stroke="#f2a030" stroke-width="1"/>
<circle cx="297.3" cy="270.9" r="2.5" fill="none" stroke="#f2a030" stroke-width="1"/>
<circle cx="305.6" cy="272.1" r="2.5" fill="none" stroke="#f2a030" stroke-width="1"/>
<circle cx="318.4" cy="272.7" r="2.5" fill="none" stroke="#f2a030" stroke-width="1"/>
<circle cx="329.3" cy="273.0" r="2.5" fill="none" stroke="#f2a030" stroke-width="1"/>
<circle cx="332.8" cy="273.5" r="2.5" fill="none" stroke="#f2a030" stroke-width="1"/>
<circle cx="300.3" cy="276.1" r="2.5" fill="none" stroke="#f2a030" stroke-width="1"/>
<circle cx="313.8" cy="277.0" r="2.5" fill="none" stroke="#f2a030" stroke-width="1"/>
<circle cx="322.8" cy="277.3" r="2.5" fill="none" stroke="#f2a030" stroke-width="1"/>
<circle cx="306.3" cy="279.9" r="2.5" fill="none" stroke="#f2a030" stroke-width="1"/>
<circle cx="325.9" cy="279.9" r="2.5" fill="none" stroke="#f2a030" stroke-width="1"/>
<circle cx="332.8" cy="281.0" r="2.5" fill="none" stroke="#f2a030" stroke-width="1"/>
<circle cx="318.4" cy="282.7" r="2.5" fill="none" stroke="#f2a030" stroke-width="1"/>
<circle cx="299.9" cy="284.2" r="2.5" fill="none" stroke="#f2a030" stroke-width="1"/>
<circle cx="309.8" cy="285.0" r="2.5" fill="none" stroke="#f2a030" stroke-width="1"/>
<circle cx="326.7" cy="285.3" r="2.5" fill="none" stroke="#f2a030" stroke-width="1"/>
<circle cx="313.8" cy="289.5" r="2.5" fill="none" stroke="#f2a030" stroke-width="1"/>
<circle cx="320.7" cy="289.1" r="2.5" fill="none" stroke="#f2a030" stroke-width="1"/>
<circle cx="332.8" cy="288.6" r="2.5" fill="none" stroke="#f2a030" stroke-width="1"/>
<circle cx="303.9" cy="290.0" r="2.5" fill="none" stroke="#f2a030" stroke-width="1"/>
<circle cx="328.1" cy="290.9" r="2.5" fill="none" stroke="#f2a030" stroke-width="1"/>
<circle cx="307.7" cy="294.7" r="2.5" fill="none" stroke="#f2a030" stroke-width="1"/>
<circle cx="313.8" cy="295.7" r="2.5" fill="none" stroke="#f2a030" stroke-width="1"/>
<circle cx="319.8" cy="294.3" r="2.5" fill="none" stroke="#f2a030" stroke-width="1"/>
<circle cx="302.0" cy="299.2" r="2.5" fill="none" stroke="#f2a030" stroke-width="1"/>
<circle cx="327.6" cy="298.1" r="2.5" fill="none" stroke="#f2a030" stroke-width="1"/>
<circle cx="314.1" cy="302.6" r="2.5" fill="none" stroke="#f2a030" stroke-width="1"/>
<circle cx="321.5" cy="300.7" r="2.5" fill="none" stroke="#f2a030" stroke-width="1"/>
<path d="M292.1 165.8 L292.1 295.0 A24.7 11.2 0 0 0 341.5 295.0 L341.5 165.8" fill="none" stroke="#4a4a4a" stroke-width="1.3"/>
<ellipse cx="316.8" cy="165.8" rx="24.7" ry="4.7" fill="#dcedf5" stroke="#3c3c3c" stroke-width="1.3"/>
<path d="M603.4 58.699999999999974 L603.4 257.9 L1010.9 257.9" fill="none" stroke="#1c1c1c" stroke-width="1.35"/>
<path d="M599.8 257.9 L603.4 257.9" stroke="#1c1c1c" stroke-width="1.1"/>
<text x="597.2" y="263.4" text-anchor="end" font-family='"Liberation Sans", Arial, Helvetica, sans-serif' font-size="15" fill="#1a1a1a">0</text>
<path d="M599.8 218.1 L603.4 218.1" stroke="#1c1c1c" stroke-width="1.1"/>
<text x="597.2" y="223.6" text-anchor="end" font-family='"Liberation Sans", Arial, Helvetica, sans-serif' font-size="15" fill="#1a1a1a">20</text>
<path d="M599.8 178.3 L603.4 178.3" stroke="#1c1c1c" stroke-width="1.1"/>
<text x="597.2" y="183.8" text-anchor="end" font-family='"Liberation Sans", Arial, Helvetica, sans-serif' font-size="15" fill="#1a1a1a">40</text>
<path d="M599.8 138.5 L603.4 138.5" stroke="#1c1c1c" stroke-width="1.1"/>
<text x="597.2" y="144.0" text-anchor="end" font-family='"Liberation Sans", Arial, Helvetica, sans-serif' font-size="15" fill="#1a1a1a">60</text>
<path d="M599.8 98.7 L603.4 98.7" stroke="#1c1c1c" stroke-width="1.1"/>
<text x="597.2" y="104.2" text-anchor="end" font-family='"Liberation Sans", Arial, Helvetica, sans-serif' font-size="15" fill="#1a1a1a">80</text>
<path d="M599.8 58.9 L603.4 58.9" stroke="#1c1c1c" stroke-width="1.1"/>
<text x="597.2" y="64.4" text-anchor="end" font-family='"Liberation Sans", Arial, Helvetica, sans-serif' font-size="15" fill="#1a1a1a">100</text>
<path d="M603.4 257.9 L603.4 261.09999999999997" stroke="#1c1c1c" stroke-width="1.1"/>
<text x="604.6" y="274.2" text-anchor="middle" font-family='"Liberation Sans", Arial, Helvetica, sans-serif' font-size="15.1" fill="#1a1a1a">0</text>
<path d="M644.1 257.9 L644.1 261.09999999999997" stroke="#1c1c1c" stroke-width="1.1"/>
<text x="645.4" y="274.2" text-anchor="middle" font-family='"Liberation Sans", Arial, Helvetica, sans-serif' font-size="15.1" fill="#1a1a1a">5</text>
<path d="M684.9 257.9 L684.9 261.09999999999997" stroke="#1c1c1c" stroke-width="1.1"/>
<text x="686.1" y="274.2" text-anchor="middle" font-family='"Liberation Sans", Arial, Helvetica, sans-serif' font-size="15.1" fill="#1a1a1a">10</text>
<path d="M725.6 257.9 L725.6 261.09999999999997" stroke="#1c1c1c" stroke-width="1.1"/>
<text x="726.9" y="274.2" text-anchor="middle" font-family='"Liberation Sans", Arial, Helvetica, sans-serif' font-size="15.1" fill="#1a1a1a">15</text>
<path d="M766.4 257.9 L766.4 261.09999999999997" stroke="#1c1c1c" stroke-width="1.1"/>
<text x="767.6" y="274.2" text-anchor="middle" font-family='"Liberation Sans", Arial, Helvetica, sans-serif' font-size="15.1" fill="#1a1a1a">20</text>
<path d="M807.1 257.9 L807.1 261.09999999999997" stroke="#1c1c1c" stroke-width="1.1"/>
<text x="808.4" y="274.2" text-anchor="middle" font-family='"Liberation Sans", Arial, Helvetica, sans-serif' font-size="15.1" fill="#1a1a1a">25</text>
<path d="M847.9 257.9 L847.9 261.09999999999997" stroke="#1c1c1c" stroke-width="1.1"/>
<text x="849.1" y="274.2" text-anchor="middle" font-family='"Liberation Sans", Arial, Helvetica, sans-serif' font-size="15.1" fill="#1a1a1a">30</text>
<path d="M888.6 257.9 L888.6 261.09999999999997" stroke="#1c1c1c" stroke-width="1.1"/>
<text x="889.9" y="274.2" text-anchor="middle" font-family='"Liberation Sans", Arial, Helvetica, sans-serif' font-size="15.1" fill="#1a1a1a">35</text>
<path d="M929.4 257.9 L929.4 261.09999999999997" stroke="#1c1c1c" stroke-width="1.1"/>
<text x="930.6" y="274.2" text-anchor="middle" font-family='"Liberation Sans", Arial, Helvetica, sans-serif' font-size="15.1" fill="#1a1a1a">40</text>
<path d="M970.1 257.9 L970.1 261.09999999999997" stroke="#1c1c1c" stroke-width="1.1"/>
<text x="971.4" y="274.2" text-anchor="middle" font-family='"Liberation Sans", Arial, Helvetica, sans-serif' font-size="15.1" fill="#1a1a1a">45</text>
<path d="M1010.9 257.9 L1010.9 261.09999999999997" stroke="#1c1c1c" stroke-width="1.1"/>
<text x="1012.1" y="274.2" text-anchor="middle" font-family='"Liberation Sans", Arial, Helvetica, sans-serif' font-size="15.1" fill="#1a1a1a">50</text>
<polyline points="604.0,257.0 966.7,256.6 974.0,146.0 982.0,80.0 991.0,67.8 1000.0,61.8 1007.8,59.6" fill="none" stroke="#c4c4c6" stroke-width="2.6" stroke-linejoin="round" stroke-linecap="round"/>
<polyline points="604.0,256.6 700.0,255.6 965.7,255.4 972.9,140.0 980.0,79.0 989.5,67.6 1000.0,61.6 1007.8,59.5" fill="none" stroke="#858588" stroke-width="2.8" stroke-linejoin="round" stroke-linecap="round"/>
<polyline points="604.2,257.3 623.0,254.6 639.7,253.6 647.4,242.8 655.1,233.8 664.1,227.4 673.1,223.1 688.5,219.7 705.1,218.5 721.3,218.1 730.0,208.0 737.7,204.2 746.5,200.4 754.2,198.5 769.6,197.7 778.5,196.5 787.0,195.8 803.5,194.6 811.0,190.0 819.6,185.8 828.5,183.5 837.3,182.3 852.7,181.5 884.6,181.5 893.0,173.8 909.2,170.0 918.0,167.0 925.8,164.6 950.0,163.9 966.0,163.9 972.8,117.0 983.0,75.8 992.2,67.2 1001.0,61.8 1007.8,59.4" fill="none" stroke="#e31d2e" stroke-width="2.8" stroke-linejoin="round" stroke-linecap="round"/>
<polyline points="604.2,257.3 623.0,254.4 639.7,253.1 647.4,235.1 656.4,218.5 664.1,208.2 673.1,201.8 680.8,197.9 688.5,195.9 697.4,195.7 705.0,194.6 712.8,193.7 721.3,193.9 730.0,178.5 737.7,172.3 746.5,167.7 754.2,163.8 762.0,162.0 769.6,160.0 778.5,158.2 787.0,158.0 794.6,157.0 803.5,157.0 811.0,147.3 819.6,144.6 828.5,138.0 835.4,134.2 843.0,128.5 852.7,127.3 868.0,126.5 884.6,126.5 893.0,117.7 900.8,113.8 909.2,112.0 918.0,110.9 950.0,110.6 966.2,110.6 982.0,69.6 991.0,64.0 1000.0,60.0 1007.8,58.9" fill="none" stroke="#1f8f3c" stroke-width="3.0" stroke-linejoin="round" stroke-linecap="round"/>
<path d="M607.5 63.1 L634.5 63.1" stroke="#1f8f3c" stroke-width="2.8" stroke-linecap="round"/>
<text x="638.2" y="66.7" textLength="40.4" lengthAdjust="spacingAndGlyphs" font-family='"Liberation Sans", Arial, Helvetica, sans-serif' font-size="15.2" fill="#1a1a1a">G26C</text>
<text x="682.4" y="66.7" font-family='"Liberation Sans", Arial, Helvetica, sans-serif' font-size="13.2" fill="#1a1a1a">(Δ110-136)</text>
<path d="M756.6 61.9 L782.8 61.9" stroke="#e31d2e" stroke-width="2.8" stroke-linecap="round"/>
<text x="787.4" y="66.7" textLength="40.0" lengthAdjust="spacingAndGlyphs" font-family='"Liberation Sans", Arial, Helvetica, sans-serif' font-size="15.2" fill="#1a1a1a">G22C</text>
<path d="M836 63.0 L862.2 63.0" stroke="#858588" stroke-width="2.8" stroke-linecap="round"/>
<text x="867.6" y="66.7" textLength="23.2" lengthAdjust="spacingAndGlyphs" font-family='"Liberation Sans", Arial, Helvetica, sans-serif' font-size="15.2" fill="#1a1a1a">WT</text>
<path d="M897.4 63.0 L923 63.0" stroke="#c4c4c6" stroke-width="2.8" stroke-linecap="round"/>
<text x="927.8" y="66.7" textLength="42.3" lengthAdjust="spacingAndGlyphs" font-family='"Liberation Sans", Arial, Helvetica, sans-serif' font-size="15.2" fill="#1a1a1a">Empty</text>
<text x="609.7" y="103.8" textLength="20.6" lengthAdjust="spacingAndGlyphs" font-family='"Liberation Sans", Arial, Helvetica, sans-serif' font-size="15.6" font-weight="bold" fill="#111">UV</text>
<rect x="636.1" y="98.6" width="6.8" height="4.0" fill="#111"/>
<rect x="647.0" y="98.6" width="6.8" height="4.0" fill="#111"/>
<rect x="657.9" y="98.6" width="6.8" height="4.0" fill="#111"/>
<rect x="668.8" y="98.6" width="6.8" height="4.0" fill="#111"/>
<rect x="723.4" y="98.6" width="6.8" height="4.0" fill="#111"/>
<rect x="734.3" y="98.6" width="6.8" height="4.0" fill="#111"/>
<rect x="745.2" y="98.6" width="6.8" height="4.0" fill="#111"/>
<rect x="756.1" y="98.6" width="6.8" height="4.0" fill="#111"/>
<rect x="807.5" y="98.6" width="6.8" height="4.0" fill="#111"/>
<rect x="818.4" y="98.6" width="6.8" height="4.0" fill="#111"/>
<rect x="829.3" y="98.6" width="6.8" height="4.0" fill="#111"/>
<rect x="840.2" y="98.6" width="6.8" height="4.0" fill="#111"/>
<rect x="889.4" y="98.6" width="6.8" height="4.0" fill="#111"/>
<rect x="900.3" y="98.6" width="6.8" height="4.0" fill="#111"/>
<rect x="911.2" y="98.6" width="6.8" height="4.0" fill="#111"/>
<rect x="922.1" y="98.6" width="6.8" height="4.0" fill="#111"/>
<text x="911.4" y="85.4" font-family='"Liberation Sans", Arial, Helvetica, sans-serif' font-size="15" font-weight="bold" fill="#111">Triton</text>
<path d="M941.3 90 L961.6 102.8" stroke="#111" stroke-width="1"/>
<polygon points="964.2,104.4 957.2,102.9 960.2,98.6" fill="#111"/>
<text x="769.5" y="301.0" textLength="87.5" lengthAdjust="spacingAndGlyphs" font-family='"Liberation Sans", Arial, Helvetica, sans-serif' font-size="16.4" font-weight="bold" fill="#111">Time (min)</text>
<text transform="translate(559.6 234.1) rotate(-90)" textLength="138.8" lengthAdjust="spacingAndGlyphs" font-family='"Liberation Sans", Arial, Helvetica, sans-serif' font-size="16.9" fill="#1a1a1a">% Calcein release</text>
<text x="478.7" y="24.3" font-family='"Liberation Sans", Arial, Helvetica, sans-serif' font-size="21.6" font-weight="bold" fill="#111">b</text>
</svg>
</body></html>
